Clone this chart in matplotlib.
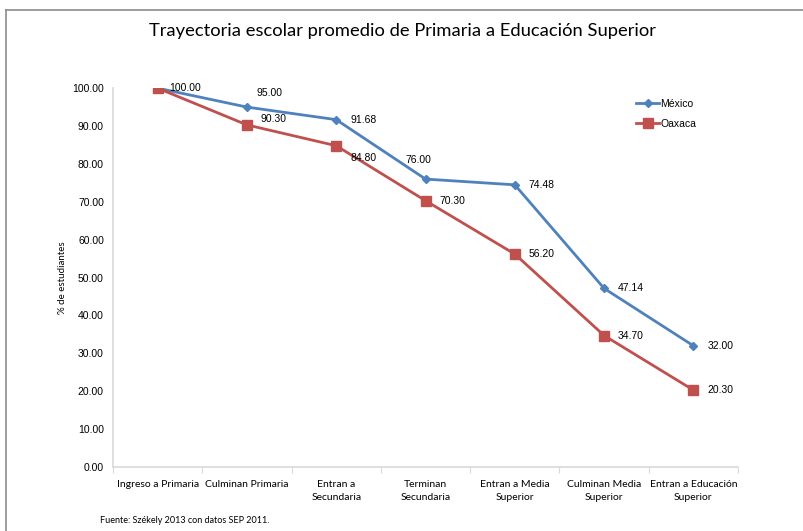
import matplotlib
matplotlib.use('Agg')
import matplotlib.pyplot as plt
from matplotlib.ticker import FixedLocator, FuncFormatter

# ── Data ──────────────────────────────────────────────────────────────────────
CATEGORIES = [
	'Ingreso a Primaria',
	'Culminan Primaria',
	'Entran a\nSecundaria',
	'Terminan\nSecundaria',
	'Entran a Media\nSuperior',
	'Culminan Media\nSuperior',
	'Entran a Educación\nSuperior',
]
MEXICO = [100.00, 95.00, 91.68, 76.00, 74.48, 47.14, 32.00]
OAXACA = [100.00, 90.30, 84.80, 70.30, 56.20, 34.70, 20.30]

# label offsets in pixels (dx, dy)
MEX_OFFSETS = [(24, 0), (10, 14), (14, 0), (-20, 19), (14, 0), (14, 0), (14, 0)]
OAX_OFFSETS = [(12, 0), (14, 6), (14, -12), (14, 0), (14, 0), (14, 0), (14, 0)]

C_MEX = '#4F81BD'
C_OAX = '#C0504D'
C_AXIS = '#D9D9D9'
FONT = ['Lato', 'DejaVu Sans']
LABEL_FONT = ['Liberation Sans', 'DejaVu Sans']

fig = plt.figure(figsize=(8.04, 5.31), dpi=100, facecolor='white')
ax = fig.add_axes([0.1405, 0.1205, 0.918 - 0.1405, 0.834 - 0.1205])

x = list(range(len(CATEGORIES)))
ax.plot(x, MEXICO, color=C_MEX, linewidth=2, marker='D', markersize=4.5,
	label='México', zorder=3)
ax.plot(x, OAXACA, color=C_OAX, linewidth=2, marker='s', markersize=6.5,
	label='Oaxaca', zorder=3)

for xi, v, (dx, dy) in zip(x, MEXICO, MEX_OFFSETS):
	if xi == 0:
		continue
	ax.annotate(f'{v:.2f}', xy=(xi, v), xytext=(dx, dy), textcoords='offset pixels',
		ha='left', va='center', fontsize=7.5, family=LABEL_FONT, color='#000000')
for xi, v, (dx, dy) in zip(x, OAXACA, OAX_OFFSETS):
	ax.annotate(f'{v:.2f}', xy=(xi, v), xytext=(dx, dy), textcoords='offset pixels',
		ha='left', va='center', fontsize=7.5, family=LABEL_FONT, color='#000000')

ax.set_xlim(-0.5, len(CATEGORIES) - 0.5)
ax.set_ylim(0, 100)
ax.set_yticks(range(0, 101, 10))
ax.yaxis.set_major_formatter(FuncFormatter(lambda v, p: f'{v:.2f}'))
ax.set_xticks(x)
ax.set_xticklabels(CATEGORIES, fontsize=7.5, family=FONT, linespacing=1.6)
ax.xaxis.set_minor_locator(FixedLocator([i - 0.5 for i in range(len(CATEGORIES) + 1)]))
ax.tick_params(axis='x', which='major', length=0, pad=9)
ax.tick_params(axis='x', which='minor', length=4, color=C_AXIS, width=0.8)
ax.tick_params(axis='y', length=0, pad=6.5, labelsize=7.5)
for lbl in ax.get_yticklabels():
	lbl.set_family(LABEL_FONT)

for s in ('top', 'right'):
	ax.spines[s].set_visible(False)
ax.spines['left'].set_color(C_AXIS)
ax.spines['bottom'].set_color(C_AXIS)
ax.spines['left'].set_linewidth(1.2)
ax.spines['bottom'].set_linewidth(1.2)

ax.set_ylabel('% de estudiantes', fontsize=7, family=FONT, labelpad=4)

leg = ax.legend(loc='upper left', bbox_to_anchor=(0.822, 0.997), frameon=False,
	handlelength=2.2, handletextpad=0.1, labelspacing=1.0,
	prop={'family': LABEL_FONT, 'size': 7.5})

fig.text(0.5, 0.942, 'Trayectoria escolar promedio de Primaria a Educación Superior',
	ha='center', va='center', fontsize=13.2, family=FONT)
fig.text(0.124, 0.019, 'Fuente: Székely 2013 con datos SEP 2011.',
	ha='left', va='center', fontsize=6.5, family=FONT)

# outer border (top and left)
fig.add_artist(plt.Line2D([6 / 804, 1], [1 - 10 / 531, 1 - 10 / 531],
	transform=fig.transFigure, color='#8C8C8C', linewidth=1.2))
fig.add_artist(plt.Line2D([6 / 804, 6 / 804], [0, 1 - 10 / 531],
	transform=fig.transFigure, color='#8C8C8C', linewidth=1.2))

fig.savefig('out.png', dpi=100, facecolor='white')
